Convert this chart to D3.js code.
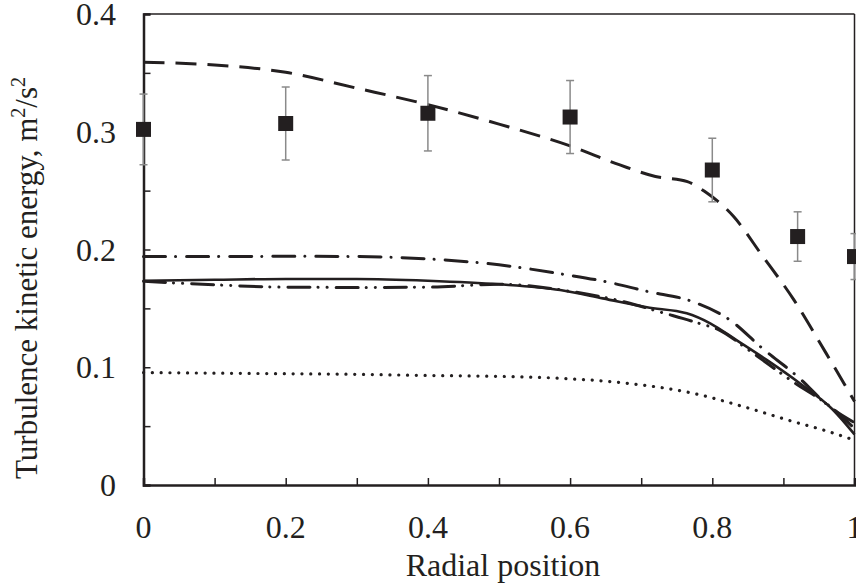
<!DOCTYPE html>
<html><head><meta charset="utf-8">
<script src="https://cdn.jsdelivr.net/npm/d3@7"></script>
<style>body{margin:0;background:#fff}svg{display:block}text{font-family:"Liberation Serif","Times New Roman",serif;fill:#231f20}</style>
</head><body>
<svg id="c" width="856" height="585"></svg>
<script>
const radial = [0, 0.2, 0.4, 0.6, 0.8, 0.92, 1];
const measured = [0.302, 0.307, 0.3157, 0.3125, 0.2675, 0.211, 0.194];
const errors = [0.030, 0.031, 0.032, 0.031, 0.027, 0.021, 0.0195];

const dashedX = [0, 0.1, 0.2, 0.3, 0.4, 0.5, 0.6, 0.67, 0.72, 0.765, 0.79, 0.83, 0.87, 0.915, 0.96, 1];
const dashedY = [0.359, 0.3567, 0.3505, 0.337, 0.323, 0.3065, 0.288, 0.2718, 0.262, 0.2576, 0.249, 0.228, 0.195, 0.157, 0.112, 0.071];

const dashDotX = [0, 0.1, 0.2, 0.3, 0.4, 0.5, 0.59, 0.65, 0.71, 0.77, 0.825, 0.87, 0.92, 0.965, 1];
const dashDotY = [0.194, 0.194, 0.1942, 0.194, 0.192, 0.187, 0.179, 0.1727, 0.1642, 0.1562, 0.140, 0.1163, 0.092, 0.0665, 0.053];

const solidX = [0, 0.1, 0.2, 0.3, 0.4, 0.5, 0.586, 0.646, 0.708, 0.764, 0.797, 0.834, 0.877, 0.923, 0.97, 1];
const solidY = [0.1735, 0.1743, 0.175, 0.175, 0.1735, 0.1705, 0.1656, 0.1585, 0.1509, 0.1458, 0.1373, 0.123, 0.106, 0.0864, 0.0637, 0.043];

const dashDotDotX = [0, 0.1, 0.2, 0.3, 0.4, 0.5, 0.6, 0.68, 0.726, 0.783, 0.81, 0.848, 0.914, 0.966, 1];
const dashDotDotY = [0.173, 0.170, 0.168, 0.1678, 0.168, 0.1705, 0.1645, 0.155, 0.147, 0.137, 0.1316, 0.116, 0.0874, 0.0665, 0.048];

const dottedX = [0, 0.1, 0.2, 0.3, 0.4, 0.464, 0.586, 0.68, 0.773, 0.844, 0.914, 0.96, 1];
const dottedY = [0.0955, 0.095, 0.0945, 0.094, 0.093, 0.0926, 0.0906, 0.0864, 0.0779, 0.0665, 0.0538, 0.046, 0.038];

const xTicks = [0, 0.2, 0.4, 0.6, 0.8, 1];
const xTickLabels = ["0", "0.2", "0.4", "0.6", "0.8", "1"];
const yTicks = [0, 0.1, 0.2, 0.3, 0.4];
const yTickLabels = ["0", "0.1", "0.2", "0.3", "0.4"];

const svg = d3.select("#c");
const x = d3.scaleLinear().domain([0, 1]).range([143.5, 854.5]);
const y = d3.scaleLinear().domain([0, 0.4]).range([485, 14]);
const ink = "#231f20";

// frame (top/right thin)
svg.append("line").attr("x1", x(0)).attr("x2", x(1)).attr("y1", y(0.4)).attr("y2", y(0.4)).attr("stroke", ink).attr("stroke-width", 1.5);
svg.append("line").attr("x1", x(1)).attr("x2", x(1)).attr("y1", y(0)).attr("y2", y(0.4)).attr("stroke", ink).attr("stroke-width", 1.5);

// bottom axis with inward minor ticks
const xAxis = d3.axisBottom(x).tickValues(d3.range(0, 1.0001, 0.1)).tickSize(-7).tickFormat("");
const gx = svg.append("g").attr("transform", `translate(0,${y(0)})`).call(xAxis);
gx.select(".domain").attr("stroke", ink).attr("stroke-width", 2.5);
gx.selectAll(".tick line").attr("stroke", ink).attr("stroke-width", 1.5);
const yAxis = d3.axisLeft(y).tickValues(d3.range(0, 0.4001, 0.05)).tickSize(-7).tickFormat("");
const gy = svg.append("g").attr("transform", `translate(${x(0)},0)`).call(yAxis);
gy.select(".domain").attr("stroke", ink).attr("stroke-width", 2.5);
gy.selectAll(".tick line").attr("stroke", ink).attr("stroke-width", 1.5);

// tick labels
svg.append("g").selectAll("text").data(xTicks).join("text")
  .attr("x", d => x(d)).attr("y", 538).attr("text-anchor", "middle")
  .attr("font-size", 32).text((d, i) => xTickLabels[i]);
svg.append("g").selectAll("text").data(yTicks).join("text")
  .attr("x", 116).attr("y", d => Math.max(y(d) + 11, 24)).attr("text-anchor", "end")
  .attr("font-size", 32).text((d, i) => yTickLabels[i]);

// titles
svg.append("text").attr("x", 503).attr("y", 576).attr("text-anchor", "middle").attr("font-size", 32).text("Radial position");
const yl = svg.append("text").attr("transform", "translate(37,278) rotate(-90)").attr("text-anchor", "middle").attr("font-size", 31);
yl.append("tspan").text("Turbulence kinetic energy, m");
yl.append("tspan").attr("font-size", 20).attr("dy", -12).text("2");
yl.append("tspan").attr("dy", 12).text("/s");
yl.append("tspan").attr("font-size", 20).attr("dy", -12).text("2");

// curves
const line = d3.line().x(d => x(d[0])).y(d => y(d[1])).curve(d3.curveMonotoneX);
const zip = (a, b) => a.map((v, i) => [v, b[i]]);
const curves = [
  {xs: dottedX, ys: dottedY, dash: "0.1 8.7", w: 3.2, cap: "round"},
  {xs: solidX, ys: solidY, dash: null, w: 2.6, cap: "butt"},
  {xs: dashDotDotX, ys: dashDotDotY, dash: "22 8 0.1 9 0.1 9", w: 3, cap: "round"},
  {xs: dashDotX, ys: dashDotY, dash: "22 10 0.1 11", w: 3, cap: "round"},
  {xs: dashedX, ys: dashedY, dash: "21 11", w: 3, cap: "butt"}
];
curves.forEach(c => {
  svg.append("path").attr("d", line(zip(c.xs, c.ys))).attr("fill", "none")
    .attr("stroke", ink).attr("stroke-width", c.w).attr("stroke-linecap", c.cap)
    .attr("stroke-dasharray", c.dash);
});

// measured points with error bars
const pts = zip(radial, measured).map((p, i) => ({x: p[0], v: p[1], e: errors[i]}));
const eb = svg.append("g").attr("stroke", "#8a8a8a").attr("stroke-width", 1.5);
pts.forEach(p => {
  eb.append("line").attr("x1", x(p.x)).attr("x2", x(p.x)).attr("y1", y(p.v - p.e)).attr("y2", y(p.v + p.e));
  [p.v - p.e, p.v + p.e].forEach(v => eb.append("line").attr("x1", x(p.x) - 4).attr("x2", x(p.x) + 4).attr("y1", y(v)).attr("y2", y(v)));
});
svg.append("g").selectAll("rect").data(pts).join("rect")
  .attr("x", d => x(d.x) - 7.5).attr("y", d => y(d.v) - 7.5).attr("width", 15).attr("height", 15).attr("fill", ink);
</script>
</body></html>
